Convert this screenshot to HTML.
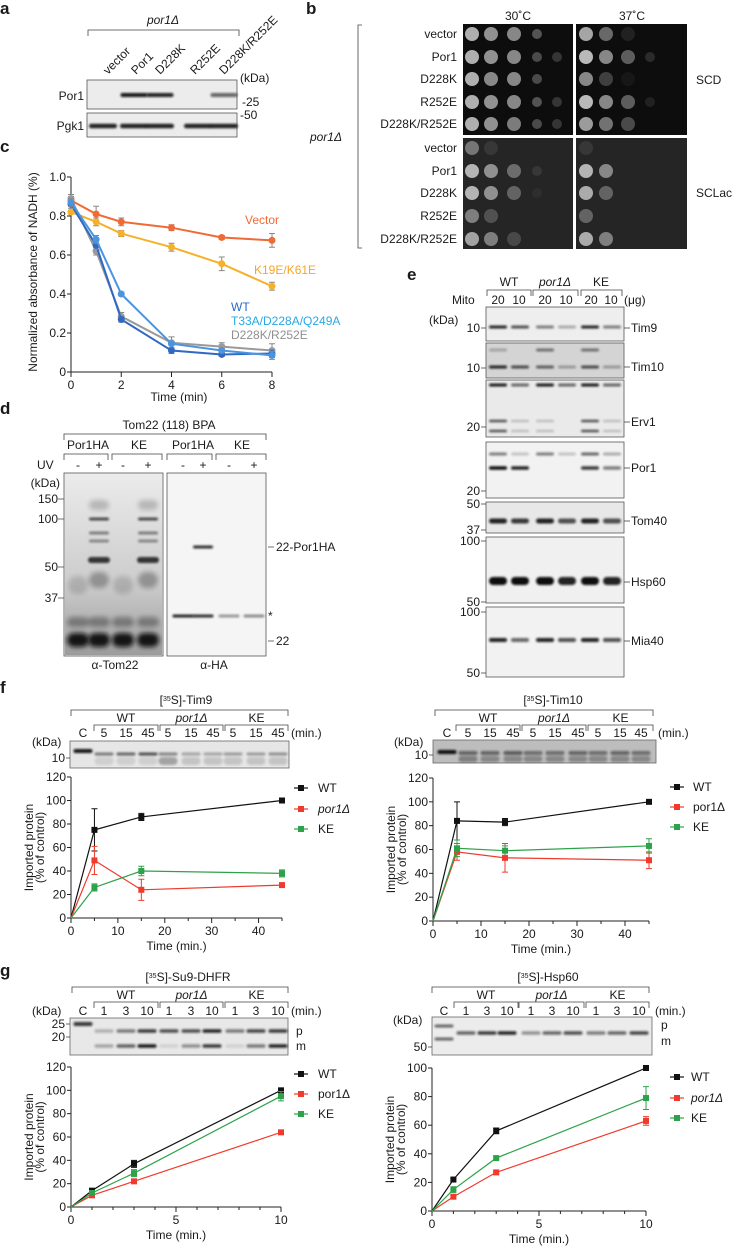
<!DOCTYPE html>
<html><head><meta charset="utf-8">
<style>
html,body{margin:0;padding:0;background:#fff;}
svg{display:block;font-family:"Liberation Sans",Arial,sans-serif;}
text{fill:#1a1a1a;}
.pl{font-weight:bold;font-size:17px;}
.t{font-size:12px;}
.s{font-size:10px;}
</style></head>
<body>
<svg id="fig" width="734" height="1249" viewBox="0 0 734 1249" xmlns="http://www.w3.org/2000/svg">
<defs>
<filter id="bl" x="-50%" y="-100%" width="200%" height="300%"><feGaussianBlur stdDeviation="1.1"/></filter>
<filter id="bl2" x="-50%" y="-100%" width="200%" height="300%"><feGaussianBlur stdDeviation="2.5"/></filter>
<linearGradient id="smear" x1="0" y1="0" x2="0" y2="1"><stop offset="0" stop-color="#000" stop-opacity="0.02"/><stop offset="0.6" stop-color="#000" stop-opacity="0.15"/><stop offset="1" stop-color="#000" stop-opacity="0.35"/></linearGradient>
</defs>

<!-- Panel a -->
<g>
<text class="pl" x="0" y="14">a</text>
<text class="t" x="163" y="24" text-anchor="middle" font-style="italic">por1Δ</text>
<path d="M88 36 V30 H239 V36" fill="none" stroke="#444" stroke-width="0.8"/>
<g class="t">
<text transform="translate(108,75) rotate(-45)">vector</text>
<text transform="translate(136,75) rotate(-45)">Por1</text>
<text transform="translate(160,75) rotate(-45)">D228K</text>
<text transform="translate(195,75) rotate(-45)">R252E</text>
<text transform="translate(224,75) rotate(-45)">D228K/R252E</text>
</g>
<text class="t" x="240" y="82">(kDa)</text>
<rect id="blotA1" x="87" y="80" width="150" height="29" fill="#ececec" stroke="#555" stroke-width="0.8"/>
<text class="t" x="84" y="100" text-anchor="end">Por1</text>
<text class="t" x="242" y="106">-25</text>
<rect id="blotA2" x="87" y="113" width="150" height="24" fill="#ececec" stroke="#555" stroke-width="0.8"/>
<text class="t" x="84" y="130" text-anchor="end">Pgk1</text>
<text class="t" x="240" y="119">-50</text>
</g>

<!-- Panel b -->
<g>
<text class="pl" x="306" y="14">b</text>
<text class="t" x="518" y="20" text-anchor="middle">30˚C</text>
<text class="t" x="632" y="20" text-anchor="middle">37˚C</text>
<path d="M362 25 H358 V248 H362" fill="none" stroke="#444" stroke-width="0.8"/>
<text class="t" x="326" y="141" text-anchor="middle" font-style="italic">por1Δ</text>
<rect x="463" y="24" width="110" height="111" fill="#0d0d0d"/>
<rect x="576" y="24" width="111" height="111" fill="#0d0d0d"/>
<rect x="463" y="138" width="110" height="111" fill="#252525"/>
<rect x="576" y="138" width="111" height="111" fill="#252525"/>
<g id="spots"></g>
<g class="t" text-anchor="end">
<text x="457" y="38">vector</text><text x="457" y="61">Por1</text><text x="457" y="83">D228K</text><text x="457" y="106">R252E</text><text x="457" y="128">D228K/R252E</text>
<text x="457" y="152">vector</text><text x="457" y="175">Por1</text><text x="457" y="197">D228K</text><text x="457" y="220">R252E</text><text x="457" y="243">D228K/R252E</text>
</g>
<text class="t" x="696" y="84">SCD</text>
<text class="t" x="696" y="197">SCLac</text>
</g>

<!-- Panel c -->
<g>
<text class="pl" x="0" y="152">c</text>
<g id="chartC"></g>
<text class="t" transform="translate(37,272) rotate(-90)" text-anchor="middle">Normalized absorbance of NADH (%)</text>
<text class="t" x="179" y="401" text-anchor="middle">Time (min)</text>
<text class="t" x="245" y="224" style="fill:#ef6a35">Vector</text>
<text class="t" x="254" y="274" style="fill:#f4a629">K19E/K61E</text>
<text class="t" x="231" y="311" style="fill:#2a6bc4">WT</text>
<text class="t" x="231" y="325" style="fill:#27a9e6">T33A/D228A/Q249A</text>
<text class="t" x="231" y="339" style="fill:#8f8f8f">D228K/R252E</text>
</g>

<!-- Panel d -->
<g>
<text class="pl" x="0" y="414">d</text>
<text class="t" x="169" y="429" text-anchor="middle">Tom22 (118) BPA</text>
<path d="M64 440 V434 H266 V440" fill="none" stroke="#444" stroke-width="0.8"/>
<g class="t" text-anchor="middle">
<text x="88" y="449">Por1HA</text><text x="139" y="449">KE</text><text x="193" y="449">Por1HA</text><text x="242" y="449">KE</text>
</g>
<path d="M64 460 V454 H108 V460 M112 460 V454 H162 V460 M167 460 V454 H212 V460 M216 460 V454 H266 V460" fill="none" stroke="#444" stroke-width="0.8"/>
<text class="t" x="37" y="469">UV</text>
<g class="t" text-anchor="middle">
<text x="78" y="469">-</text><text x="99" y="469">+</text><text x="123" y="469">-</text><text x="148" y="469">+</text>
<text x="183" y="469">-</text><text x="203" y="469">+</text><text x="229" y="469">-</text><text x="254" y="469">+</text>
</g>
<rect id="blotD1" x="64" y="473" width="99" height="183" fill="#f0f0f0" stroke="#555" stroke-width="0.8"/>
<rect x="65" y="474" width="97" height="181" fill="url(#smear)"/>
<rect id="blotD2" x="167" y="473" width="99" height="183" fill="#f5f5f5" stroke="#555" stroke-width="0.8"/>
<g class="t" text-anchor="end">
<text x="60" y="487">(kDa)</text><text x="58" y="503">150</text><text x="58" y="523">100</text><text x="58" y="571">50</text><text x="58" y="602">37</text>
</g>
<path d="M58 499 H64 M58 519 H64 M58 567 H64 M58 598 H64" stroke="#444" stroke-width="0.8"/>
<path d="M268 547 H274 M268 641 H274" stroke="#444" stroke-width="0.8"/>
<text class="t" x="276" y="551">22-Por1HA</text>
<text class="t" x="268" y="620">*</text>
<text class="t" x="276" y="645">22</text>
<text class="t" x="115" y="669" text-anchor="middle">α-Tom22</text>
<text class="t" x="214" y="669" text-anchor="middle">α-HA</text>
</g>

<!-- Panel e -->
<g>
<text class="pl" x="407" y="280">e</text>
<g class="t" text-anchor="middle">
<text x="509" y="286">WT</text><text x="555" y="286" font-style="italic">por1Δ</text><text x="601" y="286">KE</text>
</g>
<path d="M487 296 V290 H531 V296 M533 296 V290 H578 V296 M581 296 V290 H622 V296" fill="none" stroke="#444" stroke-width="0.8"/>
<text class="t" x="452" y="304">Mito</text>
<g class="t" text-anchor="middle">
<text x="498" y="304">20</text><text x="519" y="304">10</text><text x="545" y="304">20</text><text x="566" y="304">10</text><text x="591" y="304">20</text><text x="611" y="304">10</text>
</g>
<text class="t" x="624" y="304">(μg)</text>
<text class="t" x="429" y="324">(kDa)</text>
<g id="eBlots"></g>
</g>

<!-- Panel f -->
<g>
<text class="pl" x="0" y="693">f</text>
<text class="t" x="186" y="704" text-anchor="middle">[<tspan font-size="7" dy="-3">35</tspan><tspan dy="3">S]-Tim9</tspan></text>
<text class="t" x="553" y="704" text-anchor="middle">[<tspan font-size="7" dy="-3">35</tspan><tspan dy="3">S]-Tim10</tspan></text>
<g id="fHeads"></g>
<g id="chartF1"></g>
<g id="chartF2"></g>
</g>

<!-- Panel g -->
<g>
<text class="pl" x="0" y="976">g</text>
<text class="t" x="188" y="981" text-anchor="middle">[<tspan font-size="7" dy="-3">35</tspan><tspan dy="3">S]-Su9-DHFR</tspan></text>
<text class="t" x="548" y="981" text-anchor="middle">[<tspan font-size="7" dy="-3">35</tspan><tspan dy="3">S]-Hsp60</tspan></text>
<g id="gHeads"></g>
<g id="chartG1"></g>
<g id="chartG2"></g>
</g>
</svg>

<script>
// ---------- Panel c data ----------
const cTimes = [0, 1, 2, 4, 6, 8];
const cYTicks = [0, 0.2, 0.4, 0.6, 0.8, 1.0];
const cYTickLabels = ["0", "0.2", "0.4", "0.6", "0.8", "1.0"];
const cXTickLabels = ["0", "2", "4", "6", "8"];
const cVector = [0.88, 0.81, 0.77, 0.74, 0.69, 0.675];
const cVectorErr = [0.02, 0.04, 0.02, 0.015, 0.01, 0.035];
const cK19E = [0.82, 0.77, 0.71, 0.64, 0.555, 0.44];
const cK19EErr = [0.01, 0.02, 0.015, 0.02, 0.035, 0.02];
const cWT = [0.86, 0.65, 0.27, 0.11, 0.09, 0.095];
const cWTErr = [0.02, 0.02, 0.015, 0.015, 0.01, 0.02];
const cT33A = [0.87, 0.68, 0.40, 0.145, 0.11, 0.085];
const cT33AErr = [0.02, 0.02, 0.01, 0.01, 0.01, 0.02];
const cD228K = [0.89, 0.62, 0.285, 0.15, 0.13, 0.11];
const cD228KErr = [0.02, 0.02, 0.02, 0.03, 0.02, 0.035];

// ---------- Panel f/g data ----------
const fTimes = [0, 5, 15, 45];
const f1WT = [0, 75, 86, 100];
const f1WTErr = [0, 18, 3, 1];
const f1Por1 = [0, 49, 24, 28];
const f1Por1Err = [0, 12, 9, 1];
const f1KE = [0, 26, 40, 38];
const f1KEErr = [0, 3, 4, 3];
const f2WT = [0, 84, 83, 100];
const f2WTErr = [0, 16, 3, 1];
const f2Por1 = [0, 58, 53, 51];
const f2Por1Err = [0, 7, 12, 7];
const f2KE = [0, 61, 59, 63];
const f2KEErr = [0, 7, 4, 6];
const fYTicks = [0, 20, 40, 60, 80, 100, 120];
const fXTicks = [0, 10, 20, 30, 40];
const gTimes = [0, 1, 3, 10];
const g1WT = [0, 14, 37, 100];
const g1WTErr = [0, 1, 3, 2];
const g1Por1 = [0, 10, 22, 64];
const g1Por1Err = [0, 1, 1, 1];
const g1KE = [0, 12, 29, 95];
const g1KEErr = [0, 1, 3, 4];
const g2WT = [0, 22, 56, 100];
const g2WTErr = [0, 1, 2, 1];
const g2Por1 = [0, 10, 27, 63];
const g2Por1Err = [0, 1, 1, 3];
const g2KE = [0, 15, 37, 79];
const g2KEErr = [0, 2, 1, 8];
const g1YTicks = [0, 20, 40, 60, 80, 100, 120];
const g2YTicks = [0, 20, 40, 60, 80, 100];
const gXTicks = [0, 5, 10];

const NS = "http://www.w3.org/2000/svg";
function mk(tag, attrs, parent) {
  const e = document.createElementNS(NS, tag);
  for (const k in attrs) e.setAttribute(k, attrs[k]);
  parent.appendChild(e);
  return e;
}
function txt(parent, x, y, s, anchor, cls) {
  const t = mk("text", {x: x, y: y, "text-anchor": anchor || "start", class: cls || "t"}, parent);
  t.textContent = s;
  return t;
}
function band(parent, cx, cy, w, h, op, blur) {
  const r = mk("rect", {x: cx - w / 2, y: cy - h / 2, width: w, height: h, rx: h / 2, fill: "#111", opacity: op, filter: blur ? "url(#bl2)" : "url(#bl)"}, parent);
  
  
  return r;
}

// ---------- Panel a bands ----------
(function () {
  const g = document.getElementById("fig");
  const lanes = [103, 134, 160, 198, 224];
  const por1 = [0, 0.95, 0.9, 0, 0.6];
  lanes.forEach((x, i) => { if (por1[i]) band(g, x, 95, 27, 4, por1[i]); });
  lanes.forEach((x) => band(g, x, 126, 28, 4.5, 0.9));
})();

// ---------- Panel b spots ----------
(function () {
  const g = document.getElementById("spots");
  const cols30 = [472, 491, 514, 537, 557];
  const cols37 = [586, 606, 628, 650, 670];
  const rowsTop = [34, 57, 79, 102, 124];
  const rowsBot = [148, 171, 193, 216, 239];
  const scd30 = [[0.8, 0.65, 0.6, 0.35, 0], [0.8, 0.65, 0.6, 0.3, 0.2], [0.8, 0.6, 0.6, 0.3, 0], [0.8, 0.65, 0.6, 0.35, 0.2], [0.8, 0.65, 0.55, 0.3, 0.2]];
  const scd37 = [[0.75, 0.45, 0.1, 0, 0], [0.85, 0.6, 0.4, 0.15, 0], [0.6, 0.25, 0.05, 0, 0], [0.85, 0.6, 0.4, 0.1, 0], [0.7, 0.5, 0.3, 0, 0]];
  const lac30 = [[0.45, 0.1, 0, 0, 0], [0.8, 0.6, 0.4, 0.1, 0], [0.8, 0.6, 0.35, 0.05, 0], [0.5, 0.25, 0, 0, 0], [0.7, 0.5, 0.2, 0, 0]];
  const lac37 = [[0.1, 0, 0, 0, 0], [0.8, 0.55, 0, 0, 0], [0.75, 0.35, 0, 0, 0], [0.35, 0, 0, 0, 0], [0.75, 0.5, 0, 0, 0]];
  function draw(cols, rows, mat) {
    rows.forEach((y, r) => cols.forEach((x, c) => {
      const v = mat[r][c];
      if (!v) return;
      const rad = c < 3 ? 7 : 5;
      const s = mk("circle", {cx: x, cy: y, r: rad, fill: "#d8d8d8", opacity: v}, g);
      
      
    }));
  }
  draw(cols30, rowsTop, scd30); draw(cols37, rowsTop, scd37);
  draw(cols30, rowsBot, lac30); draw(cols37, rowsBot, lac37);
})();

// ---------- Panel d bands ----------
(function () {
  const g = document.getElementById("fig");
  const L = [78, 99, 123, 148];
  [0, 1, 2, 3].forEach(i => { band(g, L[i], 640, 22, 14, 0.95, true); band(g, L[i], 622, 22, 10, 0.35, true); });
  [1, 3].forEach(i => {
    band(g, L[i], 519, 20, 3, 0.7); band(g, L[i], 533, 20, 3, 0.45); band(g, L[i], 541, 20, 3, 0.4);
    band(g, L[i], 560, 22, 6, 0.8); band(g, L[i], 580, 20, 16, 0.3, true); band(g, L[i], 505, 20, 10, 0.2, true);
  });
  [0, 2].forEach(i => { band(g, L[i], 585, 20, 18, 0.15, true); });
  const R = [183, 203, 229, 254];
  band(g, 203, 547, 20, 3, 0.85);
  [0.9, 0.85, 0.4, 0.45].forEach((o, i) => band(g, R[i], 616, 21, 3, o));
})();

// ---------- Panel e blots ----------
(function () {
  const g = document.getElementById("eBlots");
  const lanes = [498, 520, 545, 567, 590, 612];
  const panels = [
    {name: "tim9", y: 307, h: 34, bg: "#eeeeee", label: "Tim9", ly: 328, marks: [["10", 328]], bands: [[327, [0.9, 0.7, 0.5, 0.3, 0.9, 0.5], 3]]},
    {name: "tim10", y: 343, h: 35, bg: "#d4d4d4", label: "Tim10", ly: 367, marks: [["10", 368]], bands: [[350, [0.25, 0, 0.5, 0, 0.5, 0], 3], [367, [0.9, 0.7, 0.6, 0.3, 0.7, 0.3], 3]]},
    {name: "erv1", y: 380, h: 57, bg: "#eaeaea", label: "Erv1", ly: 422, marks: [["20", 427]], bands: [[385, [0.95, 0.6, 0.95, 0.6, 0.95, 0.6], 3], [421, [0.7, 0.2, 0.2, 0, 0.7, 0.2], 2.5], [431, [0.7, 0.2, 0.2, 0, 0.7, 0.2], 2.5]]},
    {name: "por1", y: 442, h: 56, bg: "#f2f2f2", label: "Por1", ly: 468, marks: [["20", 491]], bands: [[454, [0.5, 0.2, 0.5, 0.2, 0.6, 0.3], 3], [468, [1, 0.9, 0, 0, 0.8, 0.5], 3.5]]},
    {name: "tom40", y: 502, h: 31, bg: "#e8e8e8", label: "Tom40", ly: 521, marks: [["50", 504], ["37", 530]], bands: [[521, [0.9, 0.8, 0.9, 0.7, 0.9, 0.7], 5]]},
    {name: "hsp60", y: 537, h: 66, bg: "#f0f0f0", label: "Hsp60", ly: 582, marks: [["100", 541], ["50", 602]], bands: [[581, [1, 1, 1, 0.9, 1, 0.9], 8]]},
    {name: "mia40", y: 607, h: 70, bg: "#f2f2f2", label: "Mia40", ly: 641, marks: [["100", 612], ["50", 673]], bands: [[640, [0.9, 0.6, 0.9, 0.7, 0.9, 0.7], 4]]}
  ];
  panels.forEach(p => {
    const r = mk("rect", {x: 486, y: p.y, width: 138, height: p.h, fill: p.bg, stroke: "#555", "stroke-width": 0.8}, g);
    
    
    p.bands.forEach(b => lanes.forEach((x, i) => { if (b[1][i]) band(g, x, b[0], 18, b[2], b[1][i]); }));
    mk("path", {d: "M624 " + p.ly + " H630", stroke: "#444", "stroke-width": 0.8}, g);
    const t = txt(g, 631, p.ly + 4, p.label);
    
    
    p.marks.forEach(m => {
      const mt = txt(g, 480, m[1] + 4, m[0], "end");
      
      
      mk("path", {d: "M481 " + m[1] + " H486", stroke: "#444", "stroke-width": 0.8}, g);
    });
  });
})();

// ---------- gel headers for f and g ----------
function gelHeader(gid, o) {
  const g = document.getElementById(gid);
  mk("path", {d: `M${o.bx0} ${o.by + 6} V${o.by} H${o.bx1} V${o.by + 6}`, fill: "none", stroke: "#444", "stroke-width": 0.8}, g);
  o.groups.forEach((gr, i) => {
    const t = txt(g, (gr[0] + gr[1]) / 2, o.by + 12, o.gnames[i], "middle");
    if (i === 1) t.setAttribute("font-style", "italic");
    
    
    mk("path", {d: `M${gr[0]} ${o.by + 21} V${o.by + 15} H${gr[1]} V${o.by + 21}`, fill: "none", stroke: "#444", "stroke-width": 0.8}, g);
  });
  const c = txt(g, o.cx, o.ny, "C", "middle");
  
  
  o.lanes.forEach((x, i) => {
    const t = txt(g, x, o.ny, o.times[i % 3], "middle");
    
    
  });
  const mn = txt(g, o.minx, o.ny, "(min.)");
  
  
  const kd = txt(g, o.kx, o.ky, "(kDa)");
  
  
  const r = mk("rect", {x: o.gx, y: o.gy, width: o.gw, height: o.gh, fill: o.bg, stroke: "#666", "stroke-width": 0.8}, g);
  
  
  o.bands.forEach(b => { const lx = b[0] === "C" ? o.cx : o.lanes[b[0]]; band(g, lx, b[1], 19, b[2], b[3]); });
  o.marks.forEach(m => {
    const t = txt(g, o.gx - 5, m[1] + 4, m[0], "end");
    
    
    mk("path", {d: `M${o.gx - 4} ${m[1]} H${o.gx}`, stroke: "#444", "stroke-width": 0.8}, g);
  });
  (o.side || []).forEach(s => {
    const t = txt(g, s[1], s[2] + 4, s[0]);
    
    
  });
}
function laneBands(y, h, ops) { return ops.map((o, i) => [i, y, h, o]).filter(b => b[3] > 0); }

gelHeader("fHeads", {bx0: 71, bx1: 288, by: 710, groups: [[94, 158], [160, 223], [225, 288]], gnames: ["WT", "por1Δ", "KE"], cx: 83, ny: 737, lanes: [104, 126, 148, 168, 191, 213, 233, 256, 278], times: ["5", "15", "45"], minx: 291, kx: 32, ky: 746, gx: 70, gy: 741, gw: 219, gh: 27, bg: "#e6e6e6",
  bands: [["C", 751, 4, 0.95]].concat(laneBands(754, 3, [0.5, 0.6, 0.7, 0.45, 0.3, 0.3, 0.35, 0.35, 0.4])).concat(laneBands(761, 8, [0.1, 0.1, 0.1, 0.3, 0.15, 0.15, 0.15, 0.15, 0.15])), marks: [["10", 758]]});
gelHeader("fHeads", {bx0: 435, bx1: 653, by: 710, groups: [[456, 520], [522, 586], [588, 653]], gnames: ["WT", "por1Δ", "KE"], cx: 447, ny: 737, lanes: [468, 490, 513, 533, 555, 578, 598, 620, 641], times: ["5", "15", "45"], minx: 658, kx: 394, ky: 746, gx: 433, gy: 740, gw: 223, gh: 23, bg: "#bdbdbd",
  bands: [["C", 752, 4, 1]].concat(laneBands(753, 4, [0.5, 0.5, 0.55, 0.45, 0.45, 0.5, 0.45, 0.5, 0.45])).concat(laneBands(759, 6, [0.35, 0.3, 0.3, 0.3, 0.3, 0.3, 0.3, 0.3, 0.3])), marks: [["10", 755]]});
gelHeader("gHeads", {bx0: 72, bx1: 288, by: 987, groups: [[94, 158], [160, 223], [225, 288]], gnames: ["WT", "por1Δ", "KE"], cx: 83, ny: 1015, lanes: [104, 126, 147, 169, 191, 212, 235, 256, 278], times: ["1", "3", "10"], minx: 291, kx: 32, ky: 1015, gx: 70, gy: 1018, gw: 218, gh: 37, bg: "#e8e8e8",
  bands: [["C", 1024, 4, 0.8]].concat(laneBands(1031, 3.5, [0.25, 0.5, 0.8, 0.7, 0.7, 0.9, 0.5, 0.75, 0.8])).concat(laneBands(1046, 3.5, [0.3, 0.6, 0.95, 0.1, 0.4, 0.8, 0.1, 0.5, 0.9])), marks: [["25", 1024], ["20", 1037]],
  side: [["p", 296, 1031], ["m", 296, 1046]]});
gelHeader("gHeads", {bx0: 432, bx1: 649, by: 987, groups: [[454, 518], [519, 584], [586, 649]], gnames: ["WT", "por1Δ", "KE"], cx: 444, ny: 1015, lanes: [466, 487, 507, 531, 552, 573, 596, 617, 639], times: ["1", "3", "10"], minx: 655, kx: 393, ky: 1024, gx: 432, gy: 1017, gw: 220, gh: 38, bg: "#ececec",
  bands: [["C", 1026, 3, 0.6], ["C", 1039, 3, 0.6]].concat(laneBands(1033, 3.5, [0.6, 0.8, 0.9, 0.4, 0.6, 0.7, 0.5, 0.6, 0.75])), marks: [["50", 1047]],
  side: [["p", 661, 1025], ["m", 661, 1041]]});

// ---------- generic chart ----------
function drawChart(gid, o) {
  const g = document.getElementById(gid);
  const sx = v => o.x0 + (v - o.xmin) / (o.xmax - o.xmin) * (o.x1 - o.x0);
  const sy = v => o.y0 - (v - o.ymin) / (o.ymax - o.ymin) * (o.y0 - o.y1);
  mk("path", {d: `M${sx(o.xmin)} ${sy(o.ymax)} V${sy(o.ymin)} H${sx(o.xmax)}`, fill: "none", stroke: "#222", "stroke-width": 1}, g);
  o.yTicks.forEach((v, i) => {
    mk("path", {d: `M${sx(o.xmin) - 4} ${sy(v)} H${sx(o.xmin)}`, stroke: "#222", "stroke-width": 1}, g);
    const t = txt(g, sx(o.xmin) - 5, sy(v) + 4, o.yLabels ? o.yLabels[i] : String(v), "end");
    
    
  });
  (o.minor || []).forEach(v => mk("path", {d: `M${sx(v)} ${sy(o.ymin)} V${sy(o.ymin) + 3}`, stroke: "#222", "stroke-width": 1}, g));
  o.xTicks.forEach((v, i) => {
    mk("path", {d: `M${sx(v)} ${sy(o.ymin)} V${sy(o.ymin) + 5}`, stroke: "#222", "stroke-width": 1}, g);
    const t = txt(g, sx(v), sy(o.ymin) + 17, o.xLabels ? o.xLabels[i] : String(v), "middle");
    
    
  });
  o.series.forEach(s => {
    const pts = o.xs.map((x, i) => sx(x) + "," + sy(s.v[i])).join(" ");
    const pl = mk("polyline", {points: pts, fill: "none", stroke: s.c, "stroke-width": o.lw}, g);
    
    
    o.xs.forEach((x, i) => {
      const e = s.e[i];
      if (e) {
        const ec = o.errColor || s.c;
        mk("path", {d: `M${sx(x)} ${sy(s.v[i] - e)} V${sy(s.v[i] + e)} M${sx(x) - 3} ${sy(s.v[i] - e)} H${sx(x) + 3} M${sx(x) - 3} ${sy(s.v[i] + e)} H${sx(x) + 3}`, stroke: ec, "stroke-width": 1}, g);
      }
      if (o.skipZero && x === 0) return;
      let m;
      if (o.marker === "circle") m = mk("circle", {cx: sx(x), cy: sy(s.v[i]), r: 3.5, fill: s.c}, g);
      else m = mk("rect", {x: sx(x) - 3, y: sy(s.v[i]) - 3, width: 6, height: 6, fill: s.c}, g);
      
      
    });
  });
  if (o.legend) {
    o.series.forEach((s, i) => {
      const ly = o.legend.y[i];
      mk("path", {d: `M${o.legend.x - 7} ${ly} H${o.legend.x + 7}`, stroke: s.c, "stroke-width": 1.2}, g);
      const m = mk("rect", {x: o.legend.x - 3, y: ly - 3, width: 6, height: 6, fill: s.c}, g);
      
      
      const t = txt(g, o.legend.tx, ly + 4, s.label);
      if (s.italic) t.setAttribute("font-style", "italic");
      
      
    });
  }
  if (o.xTitle) {
    const t = txt(g, (o.x0 + o.x1) / 2, o.y0 + 32, o.xTitle, "middle");
    
    
  }
  if (o.yTitle) {
    const cy = (o.y0 + o.y1) / 2;
    const t1 = mk("text", {transform: `translate(${o.x0 - 38},${cy}) rotate(-90)`, "text-anchor": "middle", class: "t"}, g);
    t1.textContent = "Imported protein";
    
    
    const t2 = mk("text", {transform: `translate(${o.x0 - 27},${cy}) rotate(-90)`, "text-anchor": "middle", class: "t"}, g);
    t2.textContent = "(% of control)";
    
    
  }
}

const BLK = "#111", RED = "#ee3b2e", GRN = "#2ea24a";
drawChart("chartC", {x0: 71, x1: 272, xmin: 0, xmax: 8, y0: 372, y1: 177, ymin: 0, ymax: 1, xs: cTimes,
  yTicks: cYTicks, yLabels: cYTickLabels, xTicks: [0, 2, 4, 6, 8], xLabels: cXTickLabels, marker: "circle", lw: 2, errColor: "#888",
  series: [
    {n: "vector", c: "#ef6a35", v: cVector, e: cVectorErr},
    {n: "k19e-k61e", c: "#f6b02c", v: cK19E, e: cK19EErr},
    {n: "d228k-r252e", c: "#9a9a9a", v: cD228K, e: cD228KErr},
    {n: "wt", c: "#2f69c2", v: cWT, e: cWTErr},
    {n: "t33a", c: "#4b95e0", v: cT33A, e: cT33AErr}
  ]});
drawChart("chartF1", {x0: 71, x1: 282, xmin: 0, xmax: 45, y0: 918, y1: 777, ymin: 0, ymax: 120, xs: fTimes,
  yTicks: fYTicks, xTicks: fXTicks, minor: [5, 15, 25, 35, 45], marker: "rect", lw: 1.2, skipZero: true, xTitle: "Time (min.)", yTitle: true,
  legend: {x: 301, tx: 318, y: [788, 809, 829]},
  series: [{n: "wt", label: "WT", c: BLK, v: f1WT, e: f1WTErr}, {n: "por1", label: "por1Δ", italic: true, c: RED, v: f1Por1, e: f1Por1Err}, {n: "ke", label: "KE", c: GRN, v: f1KE, e: f1KEErr}]});
drawChart("chartF2", {x0: 433, x1: 649, xmin: 0, xmax: 45, y0: 921, y1: 778, ymin: 0, ymax: 120, xs: fTimes,
  yTicks: fYTicks, xTicks: fXTicks, minor: [5, 15, 25, 35, 45], marker: "rect", lw: 1.2, skipZero: true, xTitle: "Time (min.)", yTitle: true,
  legend: {x: 677, tx: 693, y: [787, 807, 827]},
  series: [{n: "wt", label: "WT", c: BLK, v: f2WT, e: f2WTErr}, {n: "por1", label: "por1Δ", c: RED, v: f2Por1, e: f2Por1Err}, {n: "ke", label: "KE", c: GRN, v: f2KE, e: f2KEErr}]});
drawChart("chartG1", {x0: 71, x1: 281, xmin: 0, xmax: 10, y0: 1207, y1: 1067, ymin: 0, ymax: 120, xs: gTimes,
  yTicks: g1YTicks, xTicks: gXTicks, minor: [1, 2, 3, 4, 6, 7, 8, 9], marker: "rect", lw: 1.2, skipZero: true, xTitle: "Time (min.)", yTitle: true,
  legend: {x: 301, tx: 318, y: [1074, 1094, 1114]},
  series: [{n: "wt", label: "WT", c: BLK, v: g1WT, e: g1WTErr}, {n: "por1", label: "por1Δ", c: RED, v: g1Por1, e: g1Por1Err}, {n: "ke", label: "KE", c: GRN, v: g1KE, e: g1KEErr}]});
drawChart("chartG2", {x0: 432, x1: 646, xmin: 0, xmax: 10, y0: 1211, y1: 1068, ymin: 0, ymax: 100, xs: gTimes,
  yTicks: g2YTicks, xTicks: gXTicks, minor: [1, 2, 3, 4, 6, 7, 8, 9], marker: "rect", lw: 1.2, skipZero: true, xTitle: "Time (min.)", yTitle: true,
  legend: {x: 677, tx: 691, y: [1077, 1098, 1118]},
  series: [{n: "wt", label: "WT", c: BLK, v: g2WT, e: g2WTErr}, {n: "por1", label: "por1Δ", italic: true, c: RED, v: g2Por1, e: g2Por1Err}, {n: "ke", label: "KE", c: GRN, v: g2KE, e: g2KEErr}]});
</script>
</body></html>
